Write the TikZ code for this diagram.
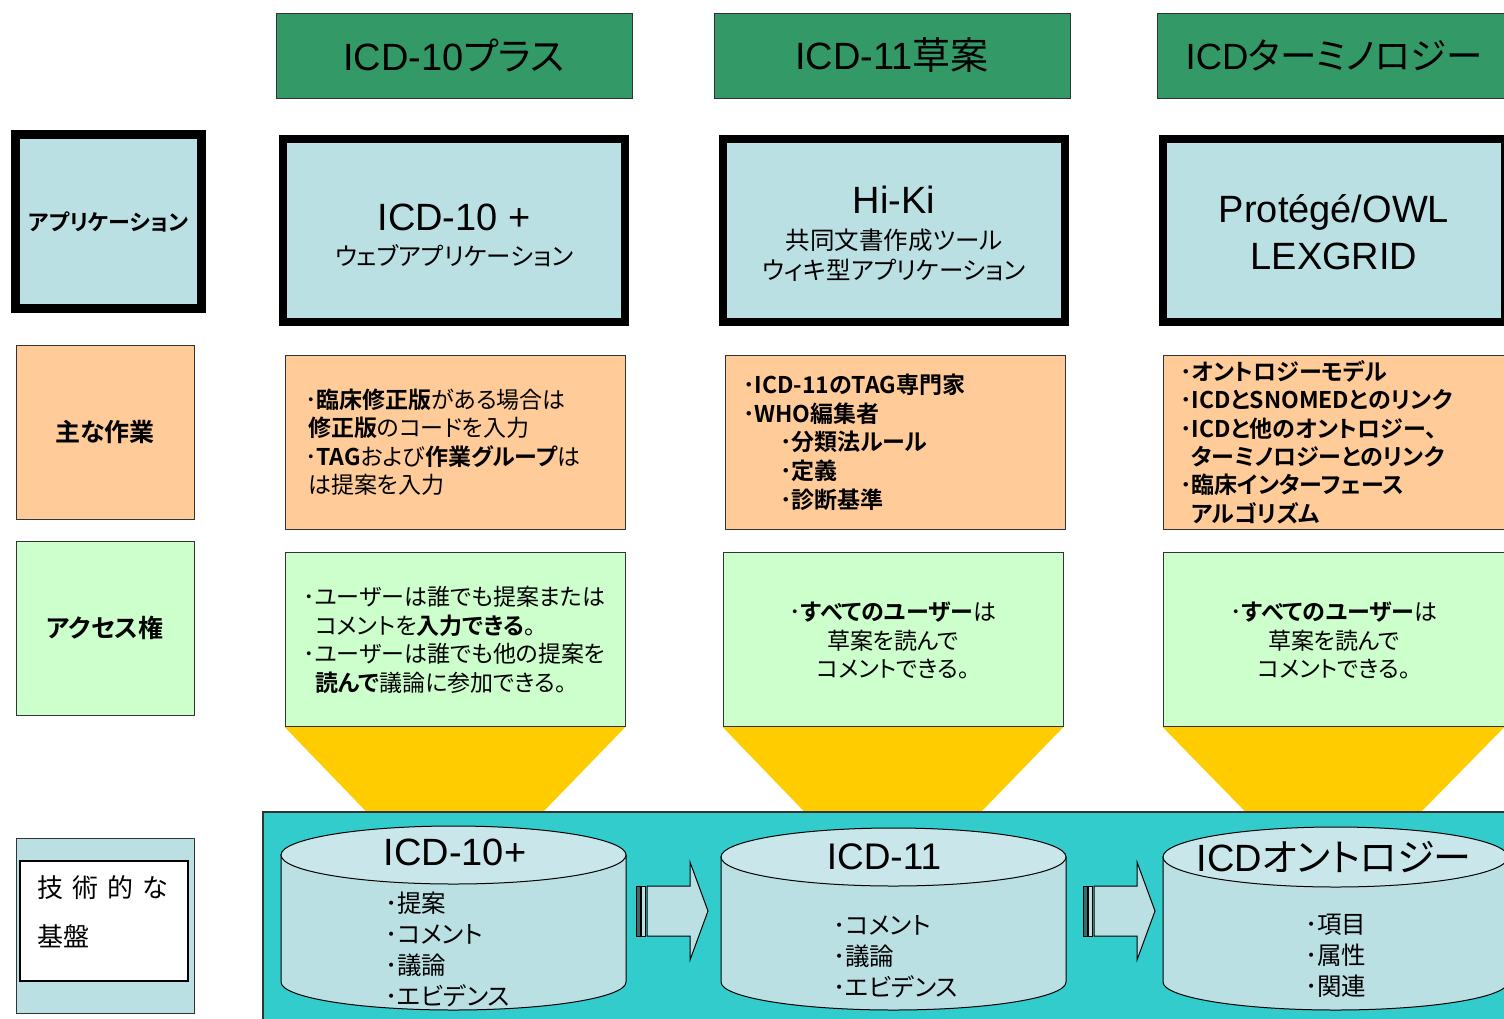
\documentclass[tikz,border=0pt]{standalone}
\usepackage{fontspec}
\setmainfont{Noto Sans CJK JP}[BoldFont={Noto Sans CJK JP Bold}, RawFeature=+palt]
\newfontfamily\lat{Liberation Sans}
\usepackage{xcolor}
\usepackage{tikz}
\usetikzlibrary{positioning}

\definecolor{hdrgreen}{HTML}{339966}
\definecolor{appblue}{HTML}{BBE0E3}
\definecolor{cyllid}{HTML}{C9E7EA}
\definecolor{peach}{HTML}{FFCC99}
\definecolor{mint}{HTML}{CCFFCC}
\definecolor{gold}{HTML}{FFCC00}
\definecolor{teal}{HTML}{33CCCC}
\definecolor{slate}{HTML}{3A6B6B}

\newcommand{\fs}[2]{\fontsize{#1}{#2}\selectfont}

\begin{document}
\begin{tikzpicture}[x=1pt, y=-1pt,
        header/.style={rectangle, draw=black!80, fill=hdrgreen, minimum width=356pt, minimum height=85pt, inner sep=0pt, font=\fs{38}{40}},
        appbox/.style={rectangle, draw=black, line width=8pt, fill=appblue, minimum width=342pt, minimum height=183pt},
        workbox/.style={rectangle, draw=black!80, fill=peach, minimum width=340pt, minimum height=174pt, align=left, inner xsep=20pt, text width=300pt, font=\fs{23}{28.4}},
        accessbox/.style={rectangle, draw=black!80, fill=mint, minimum width=340pt, minimum height=174pt},
        rowlabel/.style={rectangle, draw=black!80, minimum width=178pt, minimum height=174pt, font=\bfseries\fs{25}{28}},
        bigtext/.style={align=center, inner sep=0pt, font=\lat\fs{38}{47}},
        subtext/.style={align=center, inner sep=0pt, font=\fs{24.5}{30}},
        listtext/.style={anchor=west, align=left, inner sep=0pt, font=\fs{24.5}{31}},
        accesstext/.style={inner sep=0pt, font=\fs{23}{28.6}},
        funnel/.style={fill=gold},
        cylbody/.style={draw=black, fill=appblue, line width=1pt},
        cyltop/.style={draw=black, fill=cyllid, line width=1pt},
        blockarrow/.style={draw=black, fill=appblue, line width=1pt}
    ]
        \useasboundingbox (0,0) rectangle (1504,1018);
        \fill[white] (0,0) rectangle (1504,1018);

        % Headers
        \node[header] (hdrA) at (454,55.5) {{\lat ICD-10}プラス};
        \node[header] (hdrB) at (892,55.5) {{\lat ICD-11}草案};
        \node[header, minimum width=347pt, font=\fs{36.5}{40}] (hdrC) at (1330.5,55.5) {\hspace*{7pt}{\lat ICD}ターミノロジー};

        % Row labels
        \node[rowlabel, draw=black, line width=9pt, fill=appblue, minimum width=186pt, font=\bfseries\fs{22}{24}] (lblApp) at (108.5,221.5) {アプリケーション};
        \node[rowlabel, fill=peach] (lblWork) at (105,432) {主な作業};
        \node[rowlabel, fill=mint] (lblAccess) at (105,628) {アクセス権};
        \node[rowlabel, fill=appblue, minimum height=175pt] (lblBase) at (105,925.5) {};
        \node[rectangle, draw=black, line width=1.5pt, fill=white, minimum width=168pt, minimum height=120pt] (lblBaseIn) at (104,921) {};
        \node[anchor=west, align=left, inner sep=0pt, font=\fs{26}{49}] (lblBaseTxt) at (37,911.5) {技\hspace{9pt}術\hspace{9pt}的\hspace{9pt}な\\基盤};

        % Applications
        \node[appbox] (appA) at (454,230.5) {};
        \node[bigtext] (appAtitle) at (454,217) {ICD-10 +};
        \node[subtext] (appAsub) at (454,256) {ウェブアプリケーション};
        \node[appbox] (appB) at (894,230.5) {};
        \node[bigtext] (appBtitle) at (894,200) {Hi-Ki};
        \node[subtext] (appBsub) at (894,255) {共同文書作成ツール\\ウィキ型アプリケーション};
        \node[appbox] (appC) at (1334,230.5) {};
        \node[bigtext] (appCtitle) at (1334,232.5) {Protégé/OWL\\LEXGRID};

        % Main tasks
        \node[workbox] (workA) at (455,442) {%
            ･\textbf{臨床修正版}がある場合は\\
            \hspace*{3pt}\textbf{修正版}のコードを入力\\
            ･\textbf{TAG}および\textbf{作業グループ}は\\
            \hspace*{3pt}は提案を入力};
        \node[workbox, inner xsep=18pt, text width=304pt, font=\bfseries\fs{23}{28.7}] (workB) at (895,442) {%
            ･ICD-11のTAG専門家\\
            ･WHO編集者\\
            \hspace*{37pt}･分類法ルール\\
            \hspace*{37pt}･定義\\
            \hspace*{37pt}･診断基準};
        \node[workbox, minimum width=341pt, inner xsep=17pt, text width=307pt, font=\bfseries\fs{23}{28.4}] (workC) at (1333.5,442) {%
            ･オントロジーモデル\\
            ･ICDとSNOMEDとのリンク\\
            ･ICDと他のオントロジー、\\
            \hspace*{11pt}ターミノロジーとのリンク\\
            ･臨床インターフェース\\
            \hspace*{11pt}アルゴリズム};

        % Access rights
        \node[accessbox] (accA) at (455,639) {};
        \node[accessbox] (accB) at (893,639) {};
        \node[accessbox, minimum width=341pt] (accC) at (1333.5,639) {};
        \fill[funnel] ([yshift=-1pt]accA.south west) -- ++(83,86) -- ++(174,0) -- ([yshift=-1pt]accA.south east) -- cycle;
        \fill[funnel] ([yshift=-1pt]accB.south west) -- ++(83,86) -- ++(174,0) -- ([yshift=-1pt]accB.south east) -- cycle;
        \fill[funnel] ([yshift=-1pt]accC.south west) -- ++(84,86) -- ++(173,0) -- ([yshift=-1pt]accC.south east) -- cycle;
        \node[accesstext, anchor=west, align=left] (accAtxt) at (303,640) {%
            ･ユーザーは誰でも提案または\\
            \hspace*{12pt}コメントを\textbf{入力できる}。\\
            ･ユーザーは誰でも他の提案を\\
            \hspace*{12pt}\textbf{読んで}議論に参加できる。};
        \node[accesstext, align=center] (accBtxt) at (893,640.5) {%
            ･\textbf{すべてのユーザー}は\\草案を読んで\\コメントできる。};
        \node[accesstext, align=center] (accCtxt) at (1334,640.5) {%
            ･\textbf{すべてのユーザー}は\\草案を読んで\\コメントできる。};

        % Technical base
        \draw[fill=teal, draw=black!80, line width=1.5pt] (263,812) rectangle (1510,1024);

        \path[cylbody] (281,855) -- (281,982) arc[start angle=180, end angle=360, x radius=172.5pt, y radius=28pt] -- (626,855) -- cycle;
        \path[cyltop] (453.5,855) ellipse [x radius=172.5pt, y radius=29pt];
        \node[bigtext] (dbAtitle) at (455,852) {ICD-10+};
        \node[listtext] (dbAlist) at (385,949.5) {･提案\\･コメント\\･議論\\･エビデンス};

        \path[cylbody] (721,857) -- (721,982) arc[start angle=180, end angle=360, x radius=172.5pt, y radius=28pt] -- (1066,857) -- cycle;
        \path[cyltop] (893.5,857) ellipse [x radius=172.5pt, y radius=29pt];
        \node[bigtext, font=\lat\fs{37}{47}] (dbBtitle) at (884,857) {ICD-11};
        \node[listtext] (dbBlist) at (833,957) {･コメント\\･議論\\･エビデンス};

        \path[cylbody] (1163,857) -- (1163,982) arc[start angle=180, end angle=360, x radius=172.5pt, y radius=28pt] -- (1508,857) -- cycle;
        \path[cyltop] (1335.5,857) ellipse [x radius=172.5pt, y radius=30pt];
        \node[bigtext, font=\fs{38}{47}] (dbCtitle) at (1334,857) {{\lat ICD}オントロジー};
        \node[listtext] (dbClist) at (1305,956) {･項目\\･属性\\･関連};

        % Flow arrows
        \draw[fill=slate, line width=0.8pt] (636,886) rectangle (640,936);
        \draw[fill=appblue, line width=0.8pt] (641,886) rectangle (645,936);
        \draw[blockarrow] (647,886) -- (690,886) -- (690,862) -- (708,911) -- (690,960) -- (690,936) -- (647,936) -- cycle;
        \draw[fill=slate, line width=0.8pt] (1083,886) rectangle (1087,936);
        \draw[fill=appblue, line width=0.8pt] (1088,886) rectangle (1092,936);
        \draw[blockarrow] (1094,886) -- (1137,886) -- (1137,862) -- (1155,911) -- (1137,960) -- (1137,936) -- (1094,936) -- cycle;
    \end{tikzpicture}
\end{document}
